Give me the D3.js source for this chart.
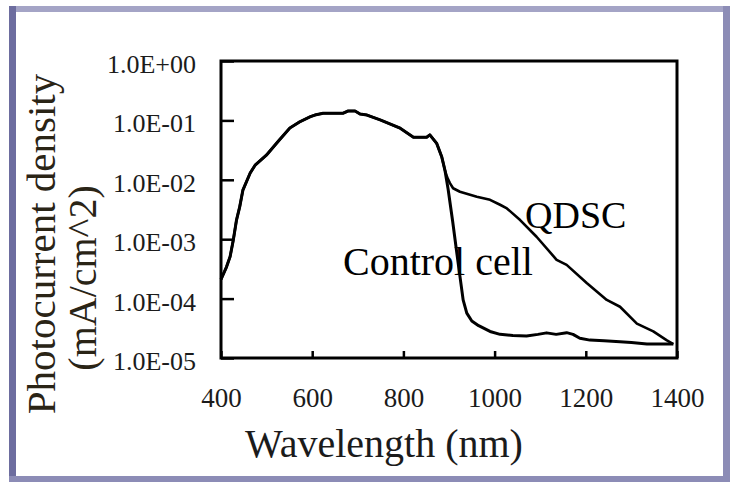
<!DOCTYPE html>
<html><head><meta charset="utf-8">
<script src="https://cdn.jsdelivr.net/npm/d3@7"></script>
<style>body{margin:0;background:#fff}svg{display:block}</style>
</head><body><svg id="c" width="732" height="482"></svg>
<script>
const xTickValues = [400, 600, 800, 1000, 1200, 1400];
const xTickLabels = ["400", "600", "800", "1000", "1200", "1400"];
const yTickValues = [1, 0.1, 0.01, 0.001, 0.0001, 0.00001];
const yTickLabels = ["1.0E+00", "1.0E-01", "1.0E-02", "1.0E-03", "1.0E-04", "1.0E-05"];

const controlWl  = [400, 412, 420, 427, 434, 441, 448, 464, 475, 500, 525, 551, 573, 595, 606, 624, 650, 668, 679, 694, 705, 720, 749, 793, 822, 851, 858, 873, 884, 891, 898, 908, 920, 931, 939, 950, 965, 990, 1012, 1040, 1070, 1095, 1114, 1135, 1158, 1172, 1187, 1209, 1240, 1275, 1300, 1334, 1392];
const controlVal = [2.1e-4, 3.4e-4, 5.1e-4, 9.7e-4, 2.1e-3, 3.5e-3, 6.7e-3, 0.013, 0.0177, 0.0262, 0.044, 0.0745, 0.095, 0.115, 0.123, 0.132, 0.132, 0.132, 0.144, 0.144, 0.128, 0.123, 0.102, 0.0738, 0.052, 0.052, 0.057, 0.041, 0.0245, 0.0146, 7.0e-3, 2.0e-3, 4.0e-4, 9.5e-5, 5.7e-5, 4.2e-5, 3.5e-5, 2.8e-5, 2.5e-5, 2.4e-5, 2.34e-5, 2.5e-5, 2.65e-5, 2.5e-5, 2.67e-5, 2.5e-5, 2.15e-5, 2.0e-5, 1.95e-5, 1.88e-5, 1.82e-5, 1.72e-5, 1.72e-5];

const qdscWl  = [400, 412, 420, 427, 434, 441, 448, 464, 475, 500, 525, 551, 573, 595, 606, 624, 650, 668, 679, 694, 705, 720, 749, 793, 822, 851, 858, 873, 884, 891, 896, 902, 909, 924, 961, 990, 1012, 1027, 1056, 1092, 1136, 1158, 1202, 1246, 1275, 1312, 1348, 1377, 1392];
const qdscVal = [2.1e-4, 3.4e-4, 5.1e-4, 9.7e-4, 2.1e-3, 3.5e-3, 6.7e-3, 0.013, 0.0177, 0.0262, 0.044, 0.0745, 0.095, 0.115, 0.123, 0.132, 0.132, 0.132, 0.144, 0.144, 0.128, 0.123, 0.102, 0.0738, 0.052, 0.052, 0.057, 0.041, 0.0245, 0.0146, 0.011, 8.8e-3, 7.2e-3, 6.3e-3, 5.2e-3, 4.6e-3, 3.8e-3, 3.3e-3, 2.1e-3, 1.1e-3, 4.5e-4, 3.7e-4, 1.83e-4, 9.5e-5, 7.3e-5, 3.8e-5, 2.8e-5, 2.0e-5, 1.72e-5];

const xTitle = "Wavelength (nm)";
const yTitle1 = "Photocurrent density";
const yTitle2 = "(mA/cm^2)";
const labelQ = "QDSC";
const labelC = "Control cell";

const svg = d3.select("#c");
const FAM = '"Liberation Serif"';
const ink = "#1b1b1b";

// outer frame
svg.append("rect").attr("x", 9).attr("y", 6).attr("width", 721).attr("height", 6).attr("fill", "#a4a4c6");
svg.append("rect").attr("x", 9).attr("y", 6).attr("width", 7).attr("height", 476).attr("fill", "#6d6d9f");
svg.append("rect").attr("x", 723).attr("y", 6).attr("width", 7).attr("height", 476).attr("fill", "#8c8cb6");
svg.append("rect").attr("x", 9).attr("y", 476).attr("width", 721).attr("height", 6).attr("fill", "#8c8cb6");

const x = d3.scaleLinear().domain([400, 1400]).range([221, 677]);
const y = d3.scaleLog().domain([1e-5, 1]).range([358, 61]);

// x axis
const gx = svg.append("g").attr("transform", "translate(0,358)")
  .call(d3.axisBottom(x).tickValues(xTickValues).tickFormat((d, i) => xTickLabels[i]).tickSize(-7).tickSizeOuter(0));
gx.attr("font-family", null).attr("font-size", null);
gx.select(".domain").remove();
gx.selectAll("line").attr("stroke", "#000").attr("stroke-width", 2.5);
gx.selectAll("text").attr("y", 49).attr("dy", 0).style("font-family", FAM).style("font-size", "27px").attr("fill", ink);

// y axis
const gy = svg.append("g").attr("transform", "translate(221,0)")
  .call(d3.axisLeft(y).tickValues(yTickValues).tickFormat((d, i) => yTickLabels[i]).tickSize(-13).tickSizeOuter(0));
gy.attr("font-family", null).attr("font-size", null);
gy.select(".domain").remove();
gy.selectAll("line").attr("stroke", "#000").attr("stroke-width", 2.5);
gy.selectAll("text").attr("x", -25).attr("y", 11.5).attr("dy", 0).style("font-family", FAM).style("font-size", "26px").attr("fill", ink);

// plot frame
svg.append("rect").attr("x", x(400)).attr("y", y(1)).attr("width", x(1400) - x(400)).attr("height", y(1e-5) - y(1))
  .attr("fill", "none").attr("stroke", "#000").attr("stroke-width", 3);

const line = d3.line().x(d => x(d[0])).y(d => y(d[1]));
svg.append("path").datum(controlWl.map((w, i) => [w, controlVal[i]])).attr("d", line)
  .attr("fill", "none").attr("stroke", "#000").attr("stroke-width", 3).attr("stroke-linejoin", "round");
svg.append("path").datum(qdscWl.map((w, i) => [w, qdscVal[i]])).attr("d", line)
  .attr("fill", "none").attr("stroke", "#000").attr("stroke-width", 2.6).attr("stroke-linejoin", "round");

// labels
svg.append("text").attr("x", 525).attr("y", 228).style("font-family", FAM).style("font-size", "38px").attr("fill", "#000").text(labelQ);
svg.append("text").attr("x", 343).attr("y", 275).style("font-family", FAM).style("font-size", "40px").attr("fill", "#000").text(labelC);

// axis titles
svg.append("text").attr("x", 384).attr("y", 457).attr("text-anchor", "middle").style("font-family", FAM).style("font-size", "40px").attr("fill", ink).text(xTitle);
svg.append("text").attr("transform", "translate(55,244) rotate(-90)").attr("text-anchor", "middle").style("font-family", FAM).style("font-size", "41px").attr("fill", "#2a2416").text(yTitle1);
svg.append("text").attr("transform", "translate(96,278) rotate(-90)").attr("text-anchor", "middle").style("font-family", FAM).style("font-size", "40px").attr("fill", "#2a2416").text(yTitle2);
</script>
</body></html>
